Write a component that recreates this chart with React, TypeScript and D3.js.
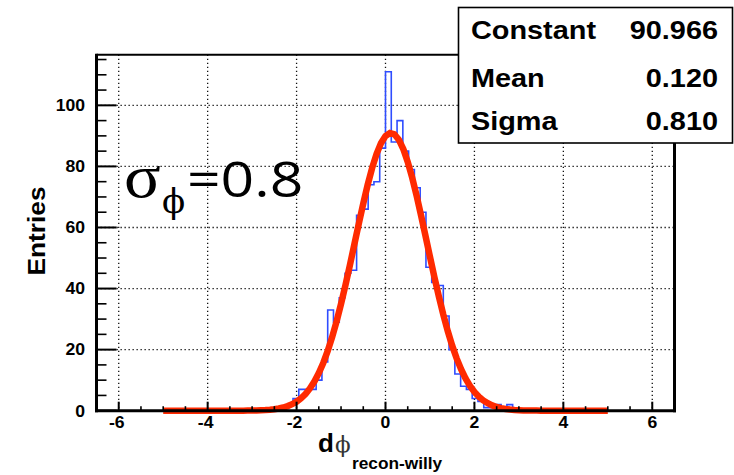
import React from 'react';
import * as d3 from 'd3';

// ---------- data ----------
const binRange = [-6.5, 6.5];
const binCounts = [
  0, 0, 0, 0, 0, 0, 0, 0, 0, 0,
  0, 0, 0, 0, 0, 0, 0, 0, 0, 0,
  0, 0, 0, 0, 0, 0, 0, 0, 0, 0,
  0, 1, 1, 2, 4, 7, 7, 7, 10, 16,
  33, 29, 37, 45, 46, 64, 66, 74, 75, 86,
  111, 88, 95, 85, 79, 73, 65, 47, 42, 41,
  31, 20, 12, 8, 7, 4, 3, 1, 1, 2,
  0, 2, 0, 0, 0, 0, 0, 0, 0, 0,
  0, 0, 0, 0, 0, 0, 0, 0, 0, 0,
  0, 0, 0, 0, 0, 0, 0, 0, 0, 0,
];
const fitNames = ['Constant', 'Mean', 'Sigma'];
const fitValues = [90.966, 0.12, 0.81];
const fitLabels = ['90.966', '0.120', '0.810'];
const fitRange = [-5, 5];
const fitPoints = 100;
const xTickValues = [-6, -4, -2, 0, 2, 4, 6];
const yTickValues = [0, 20, 40, 60, 80, 100];
const yMax = 116.55;

const W = 734;
const H = 475;
const FRAME = { left: 96.5, right: 674.5, top: 54.8, bottom: 410.7 };
const SANS = '"Liberation Sans", Arial, Helvetica, sans-serif';
const BLUE = '#2f4dff';
const RED = '#ff2a00';

function SText(props: any) {
  const { x, y, sx = 1, anchor = 'start', size, weight = 'bold', family = SANS, fill = '#000', children } = props;
  return (
    <text
      transform={`translate(${x},${y}) scale(${sx},1)`}
      textAnchor={anchor}
      fontSize={size}
      fontWeight={weight}
      fontFamily={family}
      fill={fill}
    >
      {children}
    </text>
  );
}

export default function App() {
  const x = d3.scaleLinear().domain(binRange).range([FRAME.left, FRAME.right]);
  const y = d3.scaleLinear().domain([0, yMax]).range([FRAME.bottom, FRAME.top]);

  const nb = binCounts.length;
  const bw = (binRange[1] - binRange[0]) / nb;
  const histPts = binCounts.map((c, i) => [binRange[0] + i * bw, c] as [number, number]);
  histPts.push([binRange[1], binCounts[nb - 1]]);
  const histLine = d3
    .line<[number, number]>()
    .x((d) => x(d[0]))
    .y((d) => y(d[1]))
    .curve(d3.curveStepAfter);

  const [C, mu, sig] = fitValues;
  const fitData = d3
    .range(fitPoints + 1)
    .map((i) => fitRange[0] + (i * (fitRange[1] - fitRange[0])) / fitPoints)
    .map((v) => [v, C * Math.exp(-0.5 * ((v - mu) / sig) ** 2)] as [number, number]);
  const fitLine = d3
    .line<[number, number]>()
    .x((d) => x(d[0]))
    .y((d) => y(d[1]));

  const xMinor = d3.range(-6.5, 6.51, 0.5).filter((v) => Math.abs(v % 2) > 0.01);
  const yMinor = d3.range(0, yMax, 5).filter((v) => v % 20 !== 0);
  const gridStyle = { stroke: '#111', strokeWidth: 1.3, strokeDasharray: '1.3 2.7' };

  const rowY = [39, 87, 130];

  return (
    <svg
      width={W}
      height={H}
      style={{ position: 'absolute', left: 0, top: 0, background: '#fff' }}
    >
      <rect x={0} y={0} width={W} height={H} fill="#fff" />

      {/* grid */}
      {xTickValues.map((t) => (
        <line key={'gx' + t} x1={x(t)} x2={x(t)} y1={FRAME.top} y2={FRAME.bottom} {...gridStyle} />
      ))}
      {yTickValues.filter((t) => t > 0).map((t) => (
        <line key={'gy' + t} x1={FRAME.left} x2={FRAME.right} y1={y(t)} y2={y(t)} {...gridStyle} />
      ))}

      {/* histogram */}
      <path d={histLine(histPts) || ''} fill="none" stroke={BLUE} strokeWidth={1.6} />

      {/* fit */}
      <path d={fitLine(fitData) || ''} fill="none" stroke={RED} strokeWidth={6.5} strokeLinejoin="miter" />

      {/* frame */}
      <line x1={FRAME.left} x2={FRAME.right} y1={FRAME.top} y2={FRAME.top} stroke="#000" strokeWidth={2} />
      <line x1={FRAME.right} x2={FRAME.right} y1={FRAME.top} y2={FRAME.bottom + 1.5} stroke="#000" strokeWidth={3} />
      <line x1={FRAME.left} x2={FRAME.left} y1={FRAME.top - 1} y2={FRAME.bottom + 1.5} stroke="#000" strokeWidth={3} />
      <line x1={FRAME.left - 1.5} x2={FRAME.right + 1.5} y1={FRAME.bottom} y2={FRAME.bottom} stroke="#000" strokeWidth={3} />

      {/* x ticks */}
      {xTickValues.map((t) => (
        <line key={'xt' + t} x1={x(t)} x2={x(t)} y1={FRAME.bottom} y2={FRAME.bottom - 9} stroke="#000" strokeWidth={2} />
      ))}
      {xMinor.map((t) => (
        <line key={'xm' + t} x1={x(t)} x2={x(t)} y1={FRAME.bottom} y2={FRAME.bottom - 4.5} stroke="#000" strokeWidth={1.6} />
      ))}
      {/* y ticks */}
      {yTickValues.map((t) => (
        <line key={'yt' + t} x1={FRAME.left} x2={FRAME.left + 20} y1={y(t)} y2={y(t)} stroke="#000" strokeWidth={2} />
      ))}
      {yMinor.map((t) => (
        <line key={'ym' + t} x1={FRAME.left} x2={FRAME.left + 10} y1={y(t)} y2={y(t)} stroke="#000" strokeWidth={1.6} />
      ))}

      {/* tick labels */}
      {xTickValues.map((t) => (
        <SText key={'xl' + t} x={x(t) - (t < 0 ? 2 : 0)} y={428} anchor="middle" size={16} sx={1.1}>
          {String(t)}
        </SText>
      ))}
      {yTickValues.map((t) => (
        <SText key={'yl' + t} x={85} y={y(t) + 5.8} anchor="end" size={16} sx={1.1}>
          {String(t)}
        </SText>
      ))}

      {/* axis titles */}
      <text
        transform="translate(45,231) rotate(-90)"
        textAnchor="middle"
        fontSize={24}
        fontWeight="bold"
        fontFamily={SANS}
        textLength={89}
        lengthAdjust="spacingAndGlyphs"
      >
        Entries
      </text>
      <SText x={318} y={452} size={26}>d</SText>
      <SText x={335} y={452} size={23} weight="normal" family='"DejaVu Serif", serif' fill="#333">
        ϕ
      </SText>
      <SText x={352} y={469} size={16} sx={1.08}>recon-willy</SText>

      {/* sigma annotation */}
      <SText x={124} y={197} size={62} weight="normal" family='"Liberation Serif", "DejaVu Serif", serif' sx={1.1}>
        σ
      </SText>
      <SText x={162} y={213} size={34} weight="normal" family='"DejaVu Serif", serif'>
        ϕ
      </SText>
      <SText x={187} y={197} size={49} weight="normal" family='"Open Sans", "Liberation Sans", sans-serif' sx={1.2}>
        =0.8
      </SText>

      {/* stats box */}
      <rect x={458.5} y={7.5} width={274} height={135.5} fill="#fff" stroke="#000" strokeWidth={1.6} />
      {fitNames.map((n, i) => (
        <SText key={'sn' + n} x={471} y={rowY[i]} size={26} sx={1.11}>
          {n}
        </SText>
      ))}
      {fitLabels.map((v, i) => (
        <SText key={'sv' + i} x={718} y={rowY[i]} anchor="end" size={26} sx={1.11}>
          {v}
        </SText>
      ))}
    </svg>
  );
}
